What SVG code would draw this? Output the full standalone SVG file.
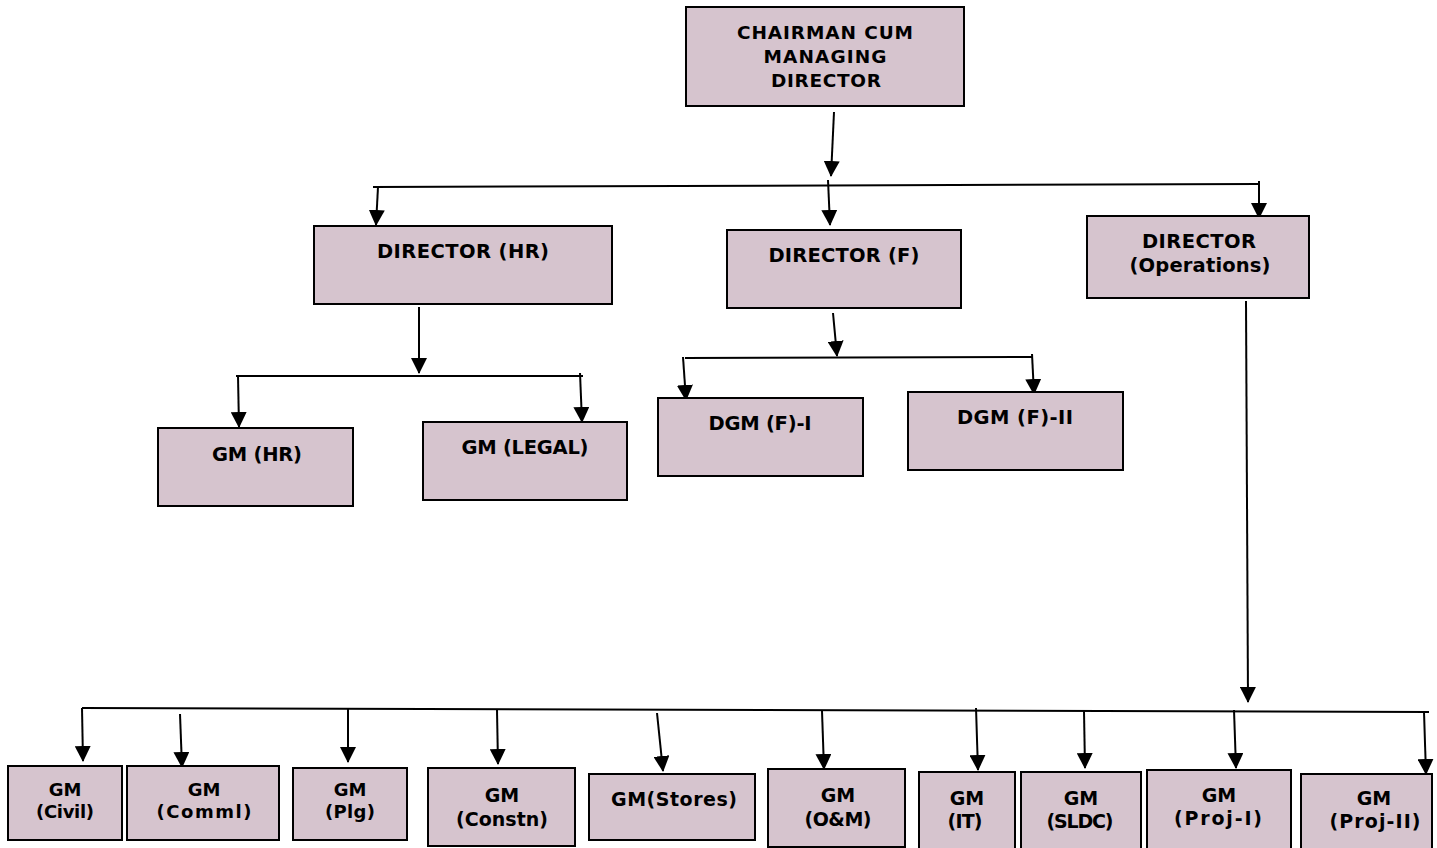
<svg xmlns="http://www.w3.org/2000/svg" width="1437" height="848" viewBox="0 0 1437 848">
<style>
.box{fill:#d6c4ce;stroke:#000;stroke-width:2}
.t{font-family:"DejaVu Sans","Liberation Sans",sans-serif;font-weight:bold;font-size:19px;fill:#000;text-anchor:middle}
.t19{font-size:19.5px}
.tc{font-size:18.5px}
.ts{font-size:18px}
.c line{stroke:#000;stroke-width:2;fill:none}
.c .a{marker-end:url(#ah)}
</style>
<defs>
<marker id="ah" viewBox="0 0 16 16" refX="15" refY="8" markerWidth="16" markerHeight="16" markerUnits="userSpaceOnUse" orient="auto">
<path d="M0,0 L16,8 L0,16 z" fill="#000"/>
</marker>
</defs>
<rect width="1437" height="848" fill="#fff"/>
<g id="connectors" class="c">
<line class="a" x1="834" y1="112" x2="831" y2="176"/>
<line x1="373" y1="187" x2="1259" y2="184"/>
<line class="a" x1="378" y1="187" x2="376" y2="225"/>
<line class="a" x1="828" y1="180" x2="830" y2="225"/>
<line class="a" x1="1259" y1="181" x2="1259" y2="218"/>
<line class="a" x1="419" y1="307" x2="419" y2="373"/>
<line x1="236" y1="376" x2="583" y2="376"/>
<line class="a" x1="238" y1="376" x2="239" y2="427"/>
<line class="a" x1="580" y1="373" x2="582" y2="422"/>
<line class="a" x1="833" y1="313" x2="837" y2="356"/>
<line x1="685" y1="358" x2="1033" y2="357"/>
<line class="a" x1="683" y1="357" x2="686" y2="400"/>
<line class="a" x1="1032" y1="354" x2="1034" y2="394"/>
<line class="a" x1="1246" y1="301" x2="1248" y2="702"/>
<line x1="82" y1="708" x2="1429" y2="712"/>
<line class="a" x1="82" y1="708" x2="83" y2="761"/>
<line class="a" x1="180" y1="714" x2="182" y2="767"/>
<line class="a" x1="348" y1="709" x2="348" y2="762"/>
<line class="a" x1="497" y1="710" x2="498" y2="764"/>
<line class="a" x1="657" y1="713" x2="663" y2="771"/>
<line class="a" x1="822" y1="711" x2="824" y2="769"/>
<line class="a" x1="976" y1="708" x2="978" y2="770"/>
<line class="a" x1="1084" y1="711" x2="1085" y2="768"/>
<line class="a" x1="1234" y1="710" x2="1236" y2="768"/>
<line class="a" x1="1424" y1="712" x2="1426" y2="774"/>
</g>
<g id="cmd"><rect class="box" x="686" y="7" width="278" height="99"/>
<text class="t tc" x="825" y="39" textLength="176" lengthAdjust="spacing">CHAIRMAN CUM</text>
<text class="t tc" x="825" y="63" textLength="123" lengthAdjust="spacing">MANAGING</text>
<text class="t tc" x="826" y="87" textLength="110" lengthAdjust="spacing">DIRECTOR</text></g>
<g id="dir-hr"><rect class="box" x="314" y="226" width="298" height="78"/>
<text class="t t19" x="463" y="258" textLength="172" lengthAdjust="spacing">DIRECTOR (HR)</text></g>
<g id="dir-f"><rect class="box" x="727" y="230" width="234" height="78"/>
<text class="t t19" x="844" y="262" textLength="151" lengthAdjust="spacing">DIRECTOR (F)</text></g>
<g id="dir-ops"><rect class="box" x="1087" y="216" width="222" height="82"/>
<text class="t t19" x="1199" y="248" textLength="114" lengthAdjust="spacing">DIRECTOR</text>
<text class="t t19" x="1200" y="272" textLength="141" lengthAdjust="spacing">(Operations)</text></g>
<g id="gm-hr"><rect class="box" x="158" y="428" width="195" height="78"/>
<text class="t t19" x="257" y="461" textLength="90" lengthAdjust="spacing">GM (HR)</text></g>
<g id="gm-legal"><rect class="box" x="423" y="422" width="204" height="78"/>
<text class="t t19" x="525" y="454" textLength="127" lengthAdjust="spacing">GM (LEGAL)</text></g>
<g id="dgm-f1"><rect class="box" x="658" y="398" width="205" height="78"/>
<text class="t t19" x="760" y="430" textLength="103" lengthAdjust="spacing">DGM (F)-I</text></g>
<g id="dgm-f2"><rect class="box" x="908" y="392" width="215" height="78"/>
<text class="t t19" x="1015" y="424" textLength="116" lengthAdjust="spacing">DGM (F)-II</text></g>
<g id="gm-civil"><rect class="box" x="8" y="766" width="114" height="74"/>
<text class="t ts" x="65" y="796">GM</text>
<text class="t ts" x="65" y="818" textLength="58" lengthAdjust="spacing">(Civil)</text></g>
<g id="gm-comml"><rect class="box" x="127" y="766" width="152" height="74"/>
<text class="t ts" x="204" y="796">GM</text>
<text class="t ts" x="204" y="818" textLength="95" lengthAdjust="spacing">(Comml)</text></g>
<g id="gm-plg"><rect class="box" x="293" y="768" width="114" height="72"/>
<text class="t ts" x="350" y="796">GM</text>
<text class="t ts" x="350" y="818" textLength="50" lengthAdjust="spacing">(Plg)</text></g>
<g id="gm-constn"><rect class="box" x="428" y="768" width="147" height="78"/>
<text class="t" x="502" y="802">GM</text>
<text class="t" x="502" y="826" textLength="92" lengthAdjust="spacing">(Constn)</text></g>
<g id="gm-stores"><rect class="box" x="589" y="774" width="166" height="66"/>
<text class="t" x="674" y="806" textLength="126" lengthAdjust="spacing">GM(Stores)</text></g>
<g id="gm-om"><rect class="box" x="768" y="769" width="137" height="78"/>
<text class="t" x="838" y="802">GM</text>
<text class="t" x="838" y="826" textLength="67" lengthAdjust="spacing">(O&amp;M)</text></g>
<g id="gm-it"><rect class="box" x="919" y="772" width="96" height="80"/>
<text class="t" x="967" y="805">GM</text>
<text class="t" x="965" y="828" textLength="35" lengthAdjust="spacing">(IT)</text></g>
<g id="gm-sldc"><rect class="box" x="1021" y="772" width="120" height="80"/>
<text class="t" x="1081" y="805">GM</text>
<text class="t" x="1080" y="828" textLength="67" lengthAdjust="spacing">(SLDC)</text></g>
<g id="gm-proj1"><rect class="box" x="1147" y="770" width="144" height="82"/>
<text class="t" x="1219" y="802">GM</text>
<text class="t" x="1218" y="825" textLength="88" lengthAdjust="spacing">(Proj-I)</text></g>
<g id="gm-proj2"><rect class="box" x="1301" y="774" width="131" height="78"/>
<text class="t" x="1374" y="805">GM</text>
<text class="t" x="1375" y="828" textLength="91" lengthAdjust="spacing">(Proj-II)</text></g>
</svg>
